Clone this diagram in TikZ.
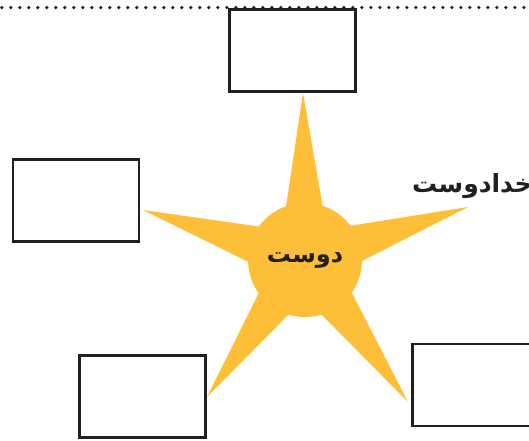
\documentclass[tikz,border=0pt]{standalone}
\usepackage{fontspec}
\newfontfamily\arabicfont[Script=Arabic]{DejaVu Sans}
\TeXXeTstate=1
\usepackage{xcolor}
\usetikzlibrary{positioning,calc}
\definecolor{staryellow}{RGB}{253,190,56}
\definecolor{inkblack}{RGB}{35,31,32}
\newcommand{\spiketo}[1]{\fill[spike] ($(c)!27pt!90:(#1)$) -- (#1) -- ($(c)!27pt!-90:(#1)$) -- cycle;}

\begin{document}
\begin{tikzpicture}[
    x=1pt, y=-1pt,
    answer/.style={rectangle, draw=inkblack, line width=2.6pt, fill=white, minimum width=126pt, minimum height=82pt, inner sep=0pt},
    hub/.style={circle, fill=staryellow, minimum size=114pt, inner sep=0pt, text=inkblack, font=\arabicfont\bfseries\fontsize{24}{28}\selectfont},
    word/.style={text=inkblack, inner sep=0pt, font=\arabicfont\bfseries\fontsize{25}{29}\selectfont},
    spike/.style={fill=staryellow}
]
\useasboundingbox (0,0) rectangle (529,440);

\draw[inkblack, line width=3.6pt, line cap=round, dash pattern=on 0pt off 9pt] (1.8,7.5) -- (529,7.5);

\coordinate (c) at (305,260);
\coordinate (tiptop) at (303,93);
\coordinate (tipleft) at (143,210);
\coordinate (tipright) at (468,207);
\coordinate (tipbl) at (207,397);
\coordinate (tipbr) at (408,402);

\spiketo{tiptop}
\spiketo{tipleft}
\spiketo{tipright}
\spiketo{tipbl}
\spiketo{tipbr}

\node [hub] (friend) at (c) {\beginR دوست\endR};

\node [answer] (top) at (292.5,50.5) {};
\node [answer] (left) at (76,200.5) {};
\node [answer] (lowleft) at (142.5,396.5) {};
\node [answer] (lowright) at (475.3,385) {};

\node [word, anchor=west] (godlover) at (412,186) {\beginR خدادوست\endR};

\end{tikzpicture}
\end{document}
